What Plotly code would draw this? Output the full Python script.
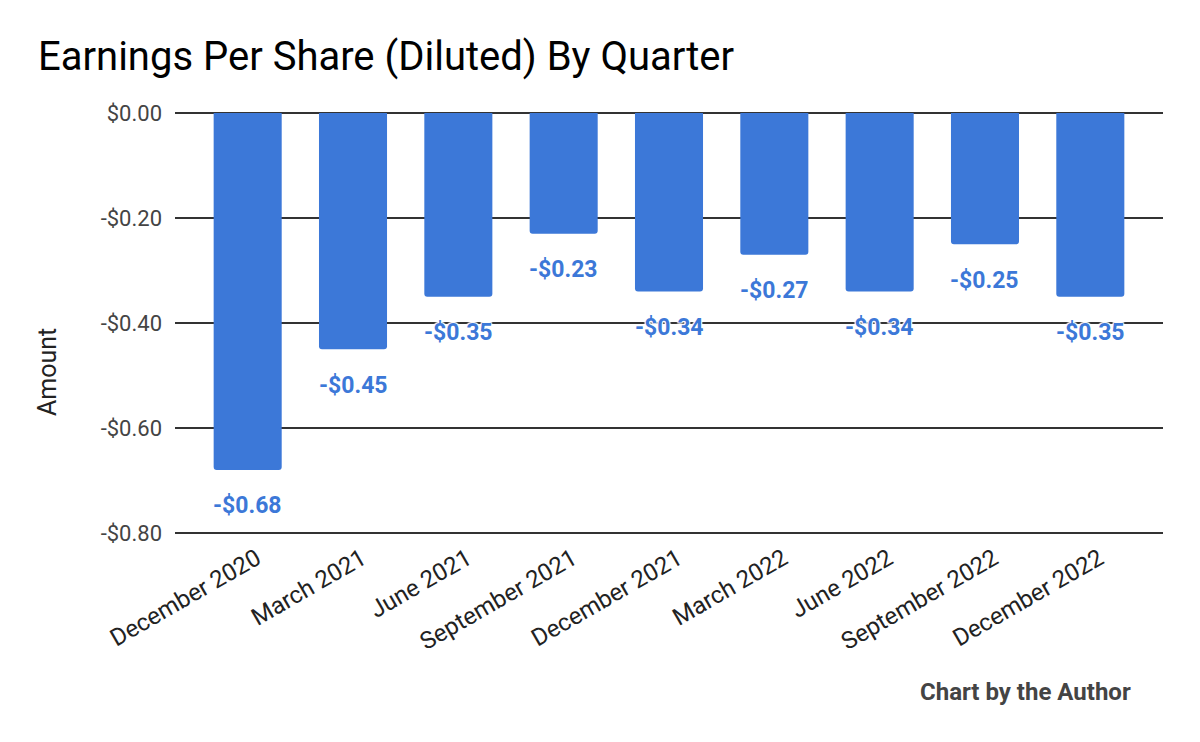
import plotly.graph_objects as go

quarters = ["December 2020", "March 2021", "June 2021", "September 2021", "December 2021",
            "March 2022", "June 2022", "September 2022", "December 2022"]
eps_diluted = [-0.68, -0.45, -0.35, -0.23, -0.34, -0.27, -0.34, -0.25, -0.35]
tick_vals = [0.0, -0.2, -0.4, -0.6, -0.8]
tick_text = ["$0.00", "-$0.20", "-$0.40", "-$0.60", "-$0.80"]

BLUE = "#3c78d8"
FONT = "Roboto"

# page body has an 8px margin, so the figure is drawn 8px in from the window edge
OFF = 8
W, H = 1200 - OFF, 742 - OFF
PL, PR, PT, PB = 175 - OFF, 37, 112 - OFF, 208
PW, PH = W - PL - PR, H - PT - PB


def fmt_money(v):
    return ("-" if v < 0 else "") + f"${abs(v):.2f}"


fig = go.Figure()

fig.add_trace(go.Bar(
    x=quarters,
    y=eps_diluted,
    marker_color=BLUE,
    marker_line_width=0,
    marker_cornerradius=3,
    width=0.646,
    hovertemplate='<b>%{x}</b><br>%{y:$.2f}<extra></extra>',
))

halo = "1px 1px 1px white, -1px -1px 1px white, 1px -1px 1px white, -1px 1px 1px white"

# data labels sit a little below each bar end
for q, v in zip(quarters, eps_diluted):
    fig.add_annotation(
        x=q, y=v, xref="x", yref="y",
        text=fmt_money(v), showarrow=False,
        yanchor="middle", yshift=-36,
        font=dict(family=FONT, size=23, color=BLUE, weight="bold", shadow=halo),
    )

fig.add_annotation(
    text="Amount", xref="paper", yref="paper",
    x=(48 - 175) / PW, y=(534 - 372) / PH, textangle=-90, showarrow=False,
    xanchor="center", yanchor="middle",
    font=dict(family=FONT, size=25, color="#222222"),
)

fig.add_annotation(
    text="<b>Chart by the Author</b>", xref="paper", yref="paper",
    x=(1133 - 175) / PW, y=-(692 - 534) / PH, showarrow=False,
    xanchor="right", yanchor="middle",
    font=dict(family=FONT, size=24, color="#444444"),
)

fig.update_layout(
    width=W, height=H,
    paper_bgcolor="white", plot_bgcolor="white",
    margin=dict(l=PL, r=PR, t=PT, b=PB, autoexpand=False),
    title=dict(text="Earnings Per Share (Diluted) By Quarter", x=(38 - OFF) / W, xanchor="left",
               xref="container", yref="container", y=1 - (56 - OFF) / H, yanchor="middle",
               font=dict(family=FONT, size=40, color="#000000")),
    showlegend=False,
    xaxis=dict(range=[-0.69, 8.69], tickangle=-30, showgrid=False, zeroline=False,
               showline=False, ticks="", ticklabelshift=9, ticklabelstandoff=5,
               tickfont=dict(family=FONT, size=24, color="#222222")),
    yaxis=dict(range=[-0.802, 0.002], tickvals=tick_vals, ticktext=tick_text,
               showgrid=True, gridcolor="#333333", gridwidth=2,
               zeroline=True, zerolinecolor="#333333", zerolinewidth=2,
               showline=False, ticks="", ticklabelstandoff=12,
               tickfont=dict(family=FONT, size=22, color="#444444")),
)

fig.write_html("out.html")
